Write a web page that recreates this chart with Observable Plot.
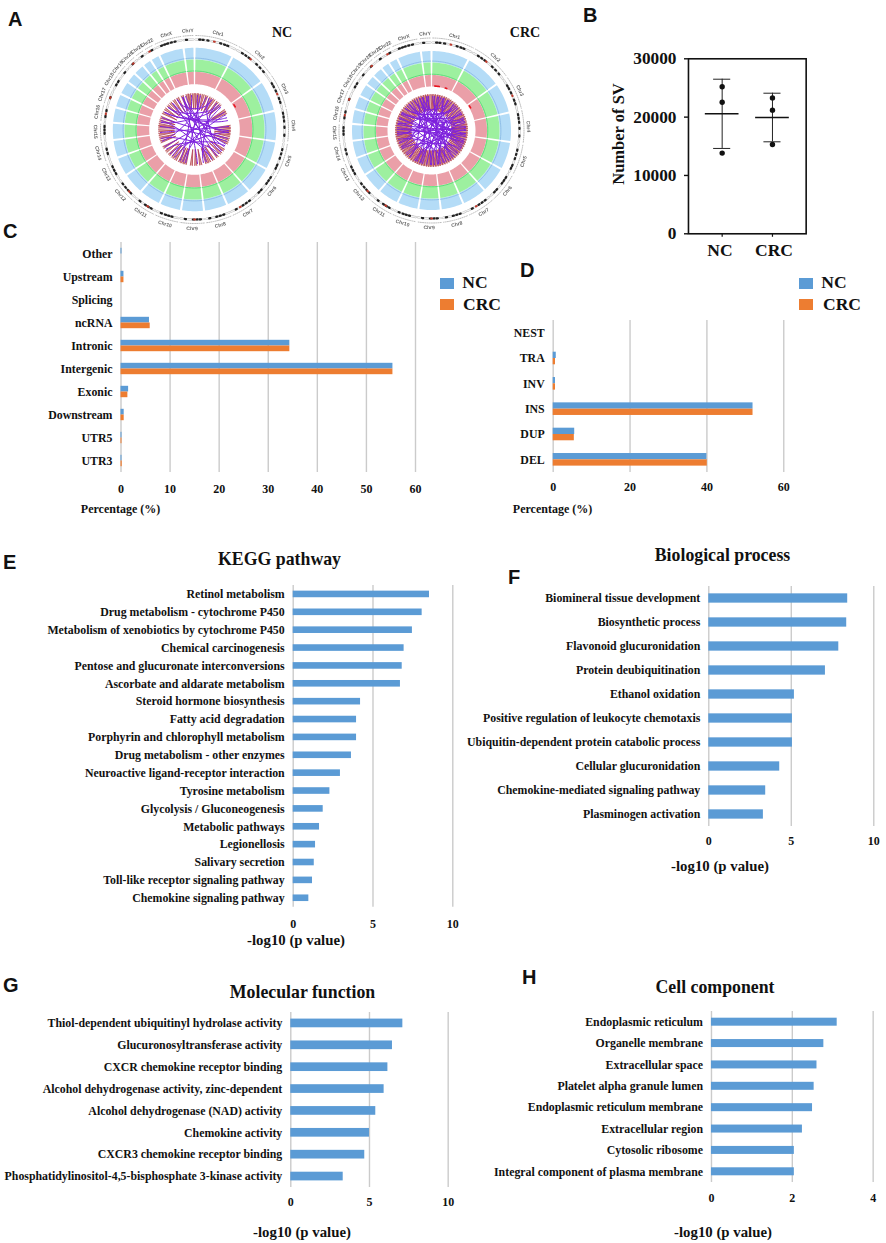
<!DOCTYPE html>
<html><head><meta charset="utf-8">
<script src="https://cdn.jsdelivr.net/npm/d3@7"></script>
<script src="https://cdn.jsdelivr.net/npm/@observablehq/plot@0.6"></script>
<style>
html,body{margin:0;padding:0;background:#fff}
#page{position:relative;width:886px;height:1243px;overflow:hidden;font-family:"Liberation Serif",serif;font-weight:bold;color:#111}
#page svg{position:absolute;background:transparent;overflow:visible}
.t{position:absolute;white-space:nowrap;transform:translate(-50%,-50%);line-height:1}
.l{position:absolute;font-family:"Liberation Sans",sans-serif;font-size:20px;line-height:1;color:#111}
.s{position:absolute}
</style></head><body><div id="page"></div>
<script>
// ---------- data: panel A ----------
const chrNames = ["Chr1","Chr2","Chr3","Chr4","Chr5","Chr6","Chr7","Chr8","Chr9","Chr10","Chr11","Chr12","Chr13","Chr14","Chr15","Chr16","Chr17","Chr18","Chr19","Chr20","Chr21","Chr22","ChrX","ChrY"];
const chrLength = [249,243,198,191,181,171,159,146,141,135,135,133,115,107,102,90,81,78,59,63,48,51,155,59];
const chrBands = [[.1,.18,.3,.62,.72,.8],[.15,.25,.35,.6,.72,.85],[.2,.3,.45,.7,.82],[.1,.22,.35,.55,.8],[.2,.35,.5,.75,.86],[.15,.28,.4,.7,.82],[.2,.35,.5,.8],[.25,.4,.55,.85],[.15,.3,.45,.8],[.3,.45,.6,.8],[.2,.35,.5,.8],[.25,.42,.6,.8],[.3,.5,.7],[.35,.6],[.4,.6,.8],[.3,.7],[.5],[.4,.7],[.5],[.45],[.5],[.6],[.2,.33,.45,.6,.75],[.3]];
const chrRedBands = [[.46],[.4],[.55],[],[],[],[.62],[],[.4],[],[.38],[.35],[],[],[],[.48],[.5],[],[],[.5],[],[.3],[],[]];
const ncHotspots = [[58,61,46.6]];
const crcHotspots = [[57,60,45.2],[4,10,44.6],[18,20,44.6]];
const ncIntra = [352,358,3,8,14,20,27,33,40,46,58,62,85,90,95,100,106,112,125,132,140,148,155,160,170,178,185,195,200,205,212,218,225,232,240,250,256,262,268,274,278,284,290,298,305,312,318,325,332,340,348];
const ncCross = [[340,140],[10,195],[30,220],[40,165],[60,240],[85,265],[70,300],[105,290],[130,330],[150,320],[345,120],[320,95],[300,75],[285,150],[340,175],[20,250],[5,160],[355,205],[50,200],[95,225],[135,255],[310,45],[330,30],[275,110],[115,340],[25,128],[65,215],[92,310],[118,235],[48,282]];
const crcIntra = [1,4,8,12,15,19,23,26,31,34,38,42,45,49,53,57,62,66,69,73,78,82,85,88,92,96,99,103,107,111,114,118,122,126,130,133,137,141,145,149,153,156,160,164,168,171,175,179,183,186,190,194,198,202,205,209,213,217,221,224,228,232,236,240,243,247,251,255,258,262,265,269,273,276,280,284,288,292,295,299,303,307,311,314,318,322,326,330,333,337,341,345,349,352,356];
const crcCross = [[340,140],[10,195],[30,220],[40,165],[60,240],[85,265],[70,300],[105,290],[130,330],[150,320],[345,120],[320,95],[300,75],[285,150],[340,175],[20,250],[5,160],[355,205],[50,200],[95,225],[135,255],[310,45],[330,30],[275,110],[115,340],[12,170],[22,146],[35,262],[55,182],[77,210],[90,280],[98,318],[112,20],[125,298],[142,352],[158,268],[168,58],[188,28],[198,345],[208,88],[228,72],[238,122],[248,42],[272,100],[282,16],[292,132],[302,62],[315,108],[325,180],[335,218],[352,242],[2,118],[48,310],[68,155],[83,345]];
// ---------- data: panel B ----------
const svGroups = ["NC","CRC"];
const svMean = [20570,19940];
const svLow = [14630,15770];
const svHigh = [26500,24100];
const svPointGroup = ["NC","NC","NC","CRC","CRC","CRC"];
const svPointValue = [25200,22560,13830,23300,21200,15300];
// ---------- data: panel C ----------
const cCats = ["Other","Upstream","Splicing","ncRNA","Intronic","Intergenic","Exonic","Downstream","UTR5","UTR3"];
const cNC = [0.2,0.6,0,5.8,34.4,55.4,1.55,0.65,0.2,0.2];
const cCRC = [0,0.6,0,5.95,34.4,55.4,1.4,0.65,0.2,0.25];
// ---------- data: panel D ----------
const dCats = ["NEST","TRA","INV","INS","DUP","DEL"];
const dNC = [0,0.8,0.6,52,5.6,40];
const dCRC = [0,0.6,0.6,52,5.5,40.1];
// ---------- data: panels E-H ----------
const eCats = ["Retinol metabolism","Drug metabolism - cytochrome P450","Metabolism of xenobiotics by cytochrome P450","Chemical carcinogenesis","Pentose and glucuronate interconversions","Ascorbate and aldarate metabolism","Steroid hormone biosynthesis","Fatty acid degradation","Porphyrin and chlorophyll metabolism","Drug metabolism - other enzymes","Neuroactive ligand-receptor interaction","Tyrosine metabolism","Glycolysis / Gluconeogenesis","Metabolic pathways","Legionellosis","Salivary secretion","Toll-like receptor signaling pathway","Chemokine signaling pathway"];
const eVals = [8.54,8.08,7.47,6.95,6.83,6.72,4.22,3.97,3.97,3.65,2.96,2.3,1.88,1.65,1.4,1.32,1.21,0.98];
const fCats = ["Biomineral tissue development","Biosynthetic process","Flavonoid glucuronidation","Protein deubiquitination","Ethanol oxidation","Positive regulation of leukocyte chemotaxis","Ubiquitin-dependent protein catabolic process","Cellular glucuronidation","Chemokine-mediated signaling pathway","Plasminogen activation"];
const fVals = [8.42,8.36,7.88,7.07,5.19,5.07,5.07,4.3,3.45,3.31];
const gCats = ["Thiol-dependent ubiquitinyl hydrolase activity","Glucuronosyltransferase activity","CXCR chemokine receptor binding","Alcohol dehydrogenase activity, zinc-dependent","Alcohol dehydrogenase (NAD) activity","Chemokine activity","CXCR3 chemokine receptor binding","Phosphatidylinositol-4,5-bisphosphate 3-kinase activity"];
const gVals = [7.12,6.46,6.17,5.93,5.4,5.0,4.7,3.33];
const hCats = ["Endoplasmic reticulum","Organelle membrane","Extracellular space","Platelet alpha granule lumen","Endoplasmic reticulum membrane","Extracellular region","Cytosolic ribosome","Integral component of plasma membrane"];
const hVals = [3.11,2.78,2.61,2.54,2.5,2.25,2.05,2.05];

// ---------- helpers ----------
const page = document.getElementById("page");
const SERIF = '"Liberation Serif",serif';
const BLUE = "#5b9bd5", ORANGE = "#ed7d31", GRID = "#cbcbcb";
function place(el,left,top){el.style.left=left+"px";el.style.top=top+"px";page.appendChild(el);}
function text(str,cx,cy,size,rot){const d=document.createElement("div");d.className="t";d.textContent=str;d.style.left=cx+"px";d.style.top=cy+"px";d.style.fontSize=size+"px";if(rot)d.style.transform=`translate(-50%,-50%) rotate(${rot}deg)`;page.appendChild(d);}
function letter(str,left,top){const d=document.createElement("div");d.className="l";d.textContent=str;d.style.left=left+"px";d.style.top=top+"px";page.appendChild(d);}
function swatch(left,top,color){const d=document.createElement("div");d.className="s";d.style.cssText=`left:${left}px;top:${top}px;width:14px;height:11.5px;background:${color}`;page.appendChild(d);}

function hbar({cats,series,x0,x1,max,ticks,yTop,yBottom,barH,font,tickFont,tickPad}){
  const n=cats.length, step=(yBottom-yTop)/n, k=series.length;
  const marks=[Plot.ruleX(ticks,{stroke:GRID,strokeWidth:1.4})];
  const pIn=1-barH/step;
  series.forEach((s,i)=>{
    const rows=cats.map((c,j)=>({c,v:s.values[j]}));
    const dy=k===1?0:(i===0?-barH/2:barH/2);
    marks.push(Plot.barX(rows.filter(d=>d.v>0),{x:"v",y:"c",fill:s.color,dy}));
  });
  marks.push(Plot.axisY({tickSize:0,tickPadding:8.5,fontSize:font,label:null,lineWidth:Infinity,textOverflow:null}));
  marks.push(Plot.axisX(ticks,{tickSize:0,tickPadding:tickPad,fontSize:tickFont,label:null,tickFormat:d=>String(d)}));
  const w=x1+25, h=yBottom-yTop+32;
  const svg=Plot.plot({width:w,height:h,marginLeft:x0,marginRight:w-x1,marginTop:0,marginBottom:h-(yBottom-yTop),
    x:{domain:[0,max],range:[x0,x1]},
    y:{domain:cats,paddingInner:pIn,paddingOuter:pIn/2,align:.5,round:false,axis:null},
    style:{fontFamily:SERIF,fontWeight:"bold",color:"#111",background:"transparent"},
    marks});
  svg.style.maxWidth="none";
  place(svg,0,yTop);
}

function ringChart({cx,cy,r,hot,intra,cross,linkR}){
  const total=d3.sum(chrLength), gap=1.5, scale=(360-gap*chrLength.length)/total;
  let a=gap/2; const spans=chrLength.map((L,i)=>{const s=a,e=a+L*scale;a=e+gap;return {i,s,e,name:chrNames[i]};});
  const P=(rad,deg)=>({x:rad*Math.sin(deg*Math.PI/180),y:rad*Math.cos(deg*Math.PI/180)});
  const angles=(s,e)=>{const n=Math.max(2,Math.ceil((e-s)/1.5));return d3.range(n+1).map(k=>s+(e-s)*k/n);};
  const wedges=(r0,r1)=>spans.flatMap(sp=>{const A=angles(sp.s,sp.e);return [...A.map(t=>({...P(r1,t),id:sp.i})),...A.slice().reverse().map(t=>({...P(r0,t),id:sp.i}))];});
  const arcs=(rad)=>spans.flatMap(sp=>angles(sp.s,sp.e).map(t=>({...P(rad,t),id:sp.i})));
  const segs=(list,rad)=>list.flatMap(([s,e],k)=>angles(s,e).map(t=>({...P(rad,t),id:k})));
  const toSpan=(idx,frac)=>spans[idx].s+(spans[idx].e-spans[idx].s)*frac;
  const bandSeg=(tbl,hw)=>tbl.flatMap((fr,i)=>fr.map(f=>{const c=toSpan(i,f);return [c-hw,c+hw];}));
  const hotRows=hot.flatMap(([s,e,rad],k)=>angles(s,e).map(t=>({...P(rad,t),id:k})));
  const intraRows=intra.flatMap((t,k)=>[P(linkR,t-1.7),P(linkR-16,t),P(linkR,t+1.7)].map(p=>({...p,id:k})));
  const crossRows=cross.flatMap(([p,q],k)=>[P(linkR*.95,p),P(linkR*.6,p),P(linkR*.6,q),P(linkR*.95,q)].map(o=>({...o,id:k})));
  const w=240,h=232;
  const labels=spans.map(sp=>{const m=(sp.s+sp.e)/2;return {...P(r.label,m),name:sp.name,rot:(m>90&&m<270)?m+180:m};});
  const svg=Plot.plot({width:w,height:h,margin:0,
    x:{domain:[-w/2,w/2],axis:null},y:{domain:[-h/2,h/2],axis:null},
    style:{background:"transparent"},
    marks:[
      Plot.line(wedges(r.b,r.o),{x:"x",y:"y",z:"id",fill:"#b4dcf7",stroke:null}),
      Plot.line(wedges(r.g,r.b),{x:"x",y:"y",z:"id",fill:"#9df09f",stroke:null}),
      Plot.line(wedges(r.p,r.g),{x:"x",y:"y",z:"id",fill:"#ea9fa8",stroke:null}),
      Plot.line(arcs(r.b+1.4),{x:"x",y:"y",z:"id",stroke:"#86b8e2",strokeWidth:.8}),
      Plot.line(arcs(r.g+.8),{x:"x",y:"y",z:"id",stroke:"#58da78",strokeWidth:.9}),
      Plot.line(hotRows,{x:"x",y:"y",z:"id",stroke:"#e8141e",strokeWidth:1.6}),
      Plot.line(arcs(r.ideo),{x:"x",y:"y",z:"id",stroke:"#b4b4b4",strokeWidth:2.2}),
      Plot.line(arcs(r.ideo),{x:"x",y:"y",z:"id",stroke:"#f4f4f4",strokeWidth:1.4}),
      Plot.line(segs(bandSeg(chrBands,.4),r.ideo),{x:"x",y:"y",z:"id",stroke:"#222",strokeWidth:2.2}),
      Plot.line(segs(bandSeg(chrRedBands,.3),r.ideo),{x:"x",y:"y",z:"id",stroke:"#c0392b",strokeWidth:2}),
      Plot.line(arcs(r.tick),{x:"x",y:"y",z:"id",stroke:"#bbb",strokeWidth:1,strokeDasharray:"1 1.2"}),
      Plot.text(labels,{x:"x",y:"y",text:"name",rotate:"rot",fontSize:5,fill:"#666",fontFamily:'"Liberation Sans",sans-serif'}),
      Plot.line(intraRows,{x:"x",y:"y",z:"id",fill:"#dba99f",stroke:"#b23a4b",strokeWidth:.85,strokeOpacity:.9}),
      Plot.line(crossRows,{x:"x",y:"y",z:"id",stroke:"#7d20dc",strokeWidth:1,curve:"bundle"})
    ]});
  svg.style.maxWidth="none";
  svg.style.filter="blur(.35px)";
  place(svg,cx-w/2,cy-h/2);
}

// ---------- panel A ----------
ringChart({cx:194.3,cy:128.8,r:{o:81.7,b:70,g:57.7,p:45.3,ideo:90,tick:94,label:99},hot:ncHotspots,intra:ncIntra,cross:ncCross,linkR:36});
ringChart({cx:430.5,cy:129.5,r:{o:79.5,b:68,g:55.5,p:44,ideo:88,tick:92.5,label:97},hot:crcHotspots,intra:crcIntra,cross:crcCross,linkR:36});
text("NC",282,33,14);
text("CRC",525,33,14);

// ---------- panel B ----------
{
  const rows=svGroups.map((g,i)=>({g,mean:svMean[i],lo:svLow[i],hi:svHigh[i]}));
  const pts=svPointGroup.map((g,i)=>({g,v:svPointValue[i]}));
  const left=688,right=805.7,top=58.3,bottom=233.3,W=right+5,H=bottom+20;
  const svg=Plot.plot({width:W,height:H,marginLeft:left,marginRight:W-right,marginTop:top,marginBottom:H-bottom,
    x:{domain:svGroups,paddingInner:0,paddingOuter:.17,align:.5,round:false,axis:null},
    y:{domain:[0,30000],axis:null},
    style:{fontFamily:SERIF,fontWeight:"bold",color:"#111",background:"transparent"},
    marks:[
      Plot.frame({stroke:"#111",strokeWidth:1.6}),
      Plot.axisY([0,10000,20000,30000],{tickSize:4,tickPadding:8,fontSize:17.3,strokeWidth:1.4,label:null,tickFormat:d=>String(d)}),
      Plot.axisX(svGroups,{tickSize:3.5,strokeWidth:1.2,tickFormat:()=>"",label:null}),
      Plot.ruleX(rows,{x:"g",y1:"lo",y2:"hi",stroke:"#222",strokeWidth:1}),
      Plot.tickY(rows,{x:"g",y:"hi",stroke:"#222",strokeWidth:1,insetLeft:16.6,insetRight:16.6}),
      Plot.tickY(rows,{x:"g",y:"lo",stroke:"#222",strokeWidth:1,insetLeft:16.6,insetRight:16.6}),
      Plot.tickY(rows,{x:"g",y:"mean",stroke:"#111",strokeWidth:1.6,insetLeft:8.3,insetRight:8.3}),
      Plot.dot(pts,{x:"g",y:"v",r:2.7,fill:"#111"})
    ]});
  svg.style.maxWidth="none";
  place(svg,0,0);
  text("NC",720,251,17.5);
  text("CRC",774,251,17.5);
  text("Number of SV",618.5,134,16.5,-90);
}

// ---------- panels C, D ----------
const LF=11.85;
hbar({cats:cCats,series:[{values:cNC,color:BLUE},{values:cCRC,color:ORANGE}],x0:120.5,x1:415,max:60,ticks:[0,10,20,30,40,50,60],yTop:242,yBottom:472,barH:5.7,font:LF,tickFont:12,tickPad:11.5});
hbar({cats:dCats,series:[{values:dNC,color:BLUE},{values:dCRC,color:ORANGE}],x0:552.7,x1:783.3,max:60,ticks:[0,20,40,60],yTop:320,yBottom:472,barH:6.3,font:LF,tickFont:12,tickPad:10});
text("Percentage (%)",120.5,508.5,12);
text("Percentage (%)",552.5,509,12);
swatch(440,277.5,BLUE);swatch(440,298.5,ORANGE);
text("NC",475,283,17.5);text("CRC",482,304.5,17.5);
swatch(799,277.5,BLUE);swatch(799,298.5,ORANGE);
text("NC",834,283,17.5);text("CRC",842,304.5,17.5);

// ---------- panels E-H ----------
hbar({cats:eCats,series:[{values:eVals,color:BLUE}],x0:292.7,x1:452.3,max:10,ticks:[0,5,10],yTop:585,yBottom:906.7,barH:6.6,font:LF,tickFont:12,tickPad:12});
hbar({cats:fCats,series:[{values:fVals,color:BLUE}],x0:708.3,x1:873.3,max:10,ticks:[0,5,10],yTop:586,yBottom:826,barH:9.3,font:LF,tickFont:12,tickPad:10});
hbar({cats:gCats,series:[{values:gVals,color:BLUE}],x0:290.3,x1:447.7,max:10,ticks:[0,5,10],yTop:1011.7,yBottom:1186.7,barH:8.7,font:LF,tickFont:12,tickPad:9.5});
hbar({cats:hCats,series:[{values:hVals,color:BLUE}],x0:711,x1:872.7,max:4,ticks:[0,2,4],yTop:1010.7,yBottom:1181.7,barH:8,font:LF,tickFont:12,tickPad:10.5});
text("KEGG pathway",279.5,560,17.8);
text("Biological process",722.5,556,17.8);
text("Molecular function",302.5,993,17.8);
text("Cell component",715,988,17.8);
text("-log10 (p value)",296,940,14.8);
text("-log10 (p value)",720,866,14.8);
text("-log10 (p value)",302,1232,14.8);
text("-log10 (p value)",723,1232,14.8);

// ---------- panel letters ----------
letter("A",8,9);letter("B",583,5);letter("C",3,221);letter("D",520,260);
letter("E",3,552);letter("F",508,567);letter("G",3,975);letter("H",522,967);
</script></body></html>
